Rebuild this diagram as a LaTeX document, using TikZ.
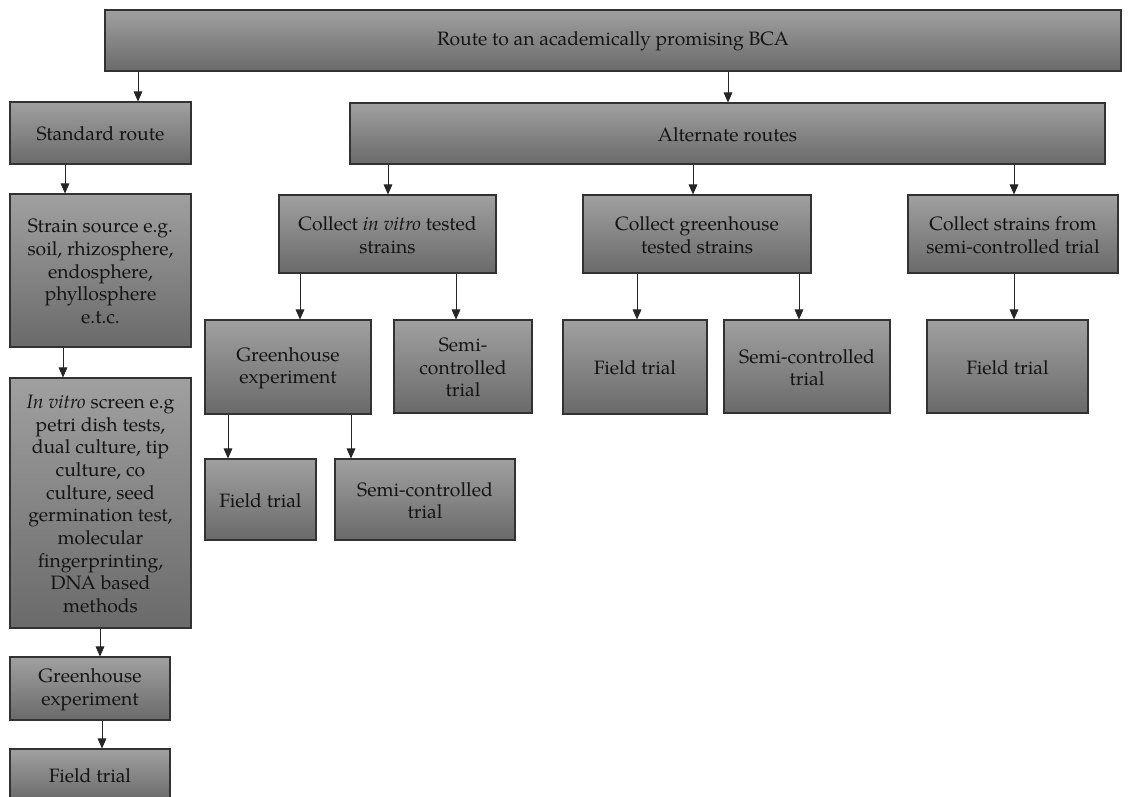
\documentclass[tikz,border=0pt]{standalone}
\usepackage{fontspec}
\setmainfont{TeX Gyre Pagella}
\usetikzlibrary{arrows.meta,fit}
\definecolor{boxtop}{RGB}{160,160,160}
\definecolor{boxbot}{RGB}{106,106,106}
\definecolor{boxline}{RGB}{50,50,50}
\tikzset{
  box/.style={draw=boxline, line width=0.8pt, top color=boxtop, bottom color=boxbot, inner sep=0pt},
  txt/.style={inner sep=0pt, align=center, font=\fontsize{14.5}{17}\selectfont, text=black!92},
  arr/.style={draw=black!85, line width=0.7pt, -{Triangle[width=6.5pt,length=7.5pt]}}
}
\newcommand\mkbox[6]{\node[box, fit={(#2,#3) (#4,#5)}] (#1) {};
  \node[txt] (#1-t) at ([yshift=-0.8pt]#1.center) {#6};}
\newcommand\conn[3]{\coordinate (tmpx) at (#3,0); \draw[arr] (#1.south -| tmpx) -- (#2.north -| tmpx);}
\begin{document}
\begin{tikzpicture}[x=0.75pt,y=-0.75pt]
\useasboundingbox (0,0) rectangle (1134,796);
\mkbox{top}{105}{10}{1121}{71}{Route to an academically promising BCA}
\mkbox{std}{10}{102}{191}{164}{Standard route}
\mkbox{alt}{350}{103}{1105}{164}{Alternate routes}
\mkbox{src}{10}{194}{191}{347}{Strain source e.g.\\ soil, rhizosphere,\\ endosphere,\\ phyllosphere\\ e.t.c.}
\mkbox{scr}{10}{378}{191}{628}{\textit{In vitro} screen e.g\\ petri dish tests,\\ dual culture, tip\\ culture, co\\ culture, seed\\ germination test,\\ molecular\\ fingerprinting,\\ DNA based\\ methods}
\mkbox{gh}{10}{657}{170}{720}{Greenhouse\\ experiment}
\mkbox{ft}{10}{749}{170}{801}{Field trial}
\mkbox{civ}{279}{195}{496}{273}{Collect \textit{in vitro} tested\\ strains}
\mkbox{cgh}{583}{195}{811}{273}{Collect greenhouse\\ tested strains}
\mkbox{csc}{908}{195}{1118}{273}{Collect strains from\\ semi-controlled trial}
\mkbox{gh2}{205}{320}{371}{414}{Greenhouse\\ experiment}
\mkbox{sc1}{394}{320}{532}{413}{Semi-\\ controlled\\ trial}
\mkbox{ft2}{563}{320}{707}{414}{Field trial}
\mkbox{sc2}{724}{320}{890}{413}{Semi-controlled\\ trial}
\mkbox{ft3}{927}{320}{1088}{413}{Field trial}
\mkbox{ft4}{205}{459}{316}{540}{Field trial}
\mkbox{sc3}{335}{459}{515}{540}{Semi-controlled\\ trial}
\conn{top}{std}{138}
\conn{top}{alt}{728}
\conn{std}{src}{65}
\conn{src}{scr}{63}
\conn{scr}{gh}{100}
\conn{gh}{ft}{102}
\conn{alt}{civ}{388}
\conn{alt}{cgh}{693}
\conn{alt}{csc}{1014}
\conn{civ}{gh2}{300}
\conn{civ}{sc1}{456}
\conn{cgh}{ft2}{637}
\conn{cgh}{sc2}{799}
\conn{csc}{ft3}{1014}
\conn{gh2}{ft4}{228}
\conn{gh2}{sc3}{351}
\end{tikzpicture}
\end{document}
